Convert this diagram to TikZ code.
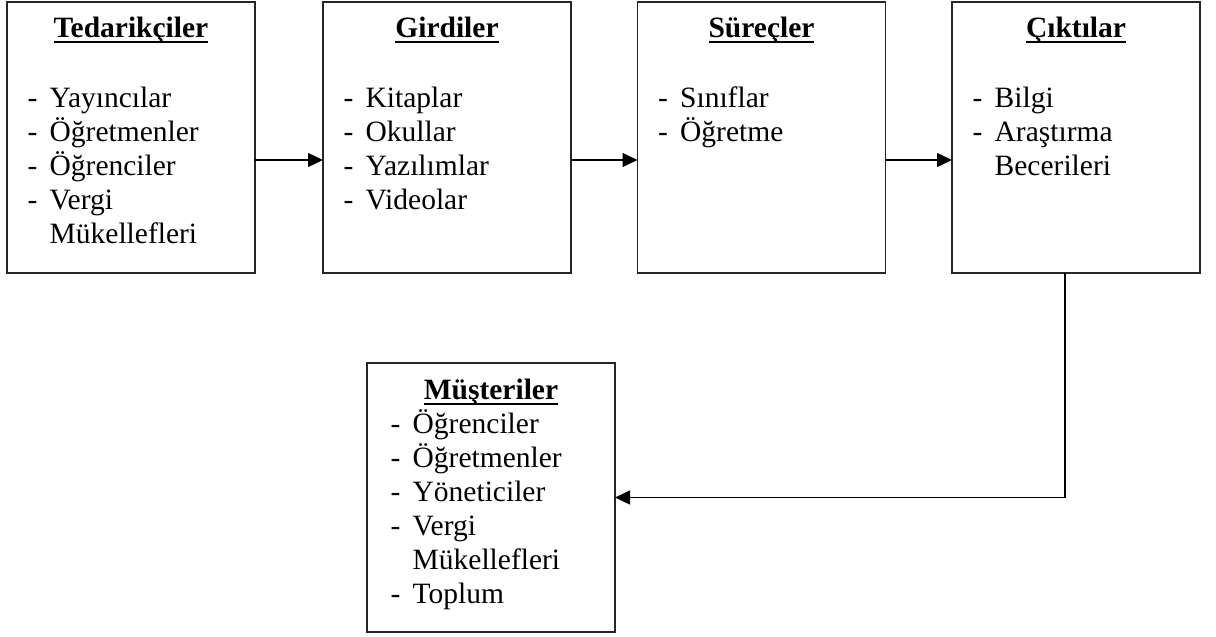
\documentclass[tikz,border=0pt]{standalone}
\usepackage{fontspec}
\setmainfont{Liberation Serif}
\usetikzlibrary{arrows.meta,positioning,calc}

% underlined bold heading, rule at a fixed depth
\newcommand{\baslik}[1]{\setbox0\hbox{\bfseries #1}\dp0=0pt\vtop{\box0\kern2.2pt\hrule height 0.75pt}}
\newcommand{\liste}[1]{\begin{tabular}[t]{@{}p{11pt}@{}l@{}}#1\end{tabular}}

\begin{document}
\begin{tikzpicture}[x=0.5pt,y=-0.5pt,->,>={Triangle[length=7.5pt,width=7pt]},
  line width=0.7pt,
  kutu/.style={draw=black!85,-,minimum width=124pt,minimum height=135.5pt,outer sep=0pt,inner sep=0pt},
  yazi/.style={inner sep=0pt,font=\fontsize{14.75}{17}\selectfont}]
\useasboundingbox (0,0) rectangle (1216,637);
\node[kutu] (tedarik) at (131,137.5) {};
\node[kutu] (girdi) at (447,137.5) {};
\node[kutu] (surec) at (761.5,137.5) {};
\node[kutu] (cikti) at (1076,137.5) {};
\node[kutu,minimum height=134.5pt] (musteri) at (491,497.5) {};
% headings
\node[yazi,anchor=base] (tedarikB) at ([yshift=-17.5pt]tedarik.north) {\baslik{Tedarikçiler}};
\node[yazi,anchor=base] (girdiB) at ([yshift=-17.5pt]girdi.north) {\baslik{Girdiler}};
\node[yazi,anchor=base] (surecB) at ([yshift=-17.5pt]surec.north) {\baslik{Süreçler}};
\node[yazi,anchor=base] (ciktiB) at ([yshift=-17.5pt]cikti.north) {\baslik{Çıktılar}};
\node[yazi,anchor=base] (musteriB) at ([yshift=-18pt]musteri.north) {\baslik{Müşteriler}};
% lists
\node[yazi,anchor=base west] (tedarikL) at ([xshift=10pt,yshift=-52.5pt]tedarik.north west)
  {\liste{- & Yayıncılar\\ - & Öğretmenler\\ - & Öğrenciler\\ - & Vergi\\ & Mükellefleri}};
\node[yazi,anchor=base west] (girdiL) at ([xshift=10pt,yshift=-52.5pt]girdi.north west)
  {\liste{- & Kitaplar\\ - & Okullar\\ - & Yazılımlar\\ - & Videolar}};
\node[yazi,anchor=base west] (surecL) at ([xshift=10pt,yshift=-52.5pt]surec.north west)
  {\liste{- & Sınıflar\\ - & Öğretme}};
\node[yazi,anchor=base west] (ciktiL) at ([xshift=10pt,yshift=-52.5pt]cikti.north west)
  {\liste{- & Bilgi\\ - & Araştırma\\ & Becerileri}};
\node[yazi,anchor=base west] (musteriL) at ([xshift=11.5pt,yshift=-35pt]musteri.north west)
  {\liste{- & Öğrenciler\\ - & Öğretmenler\\ - & Yöneticiler\\ - & Vergi\\ & Mükellefleri\\ - & Toplum}};
% connectors
\draw ([yshift=-11.25pt]tedarik.east) -- ([yshift=-11.25pt]girdi.west);
\draw ([yshift=-11.25pt]girdi.east) -- ([yshift=-11.25pt]surec.west);
\draw ([yshift=-11.25pt]surec.east) -- ([yshift=-11.25pt]cikti.west);
\draw ([xshift=-5.5pt]cikti.south) |- (musteri.east);
\end{tikzpicture}
\end{document}
